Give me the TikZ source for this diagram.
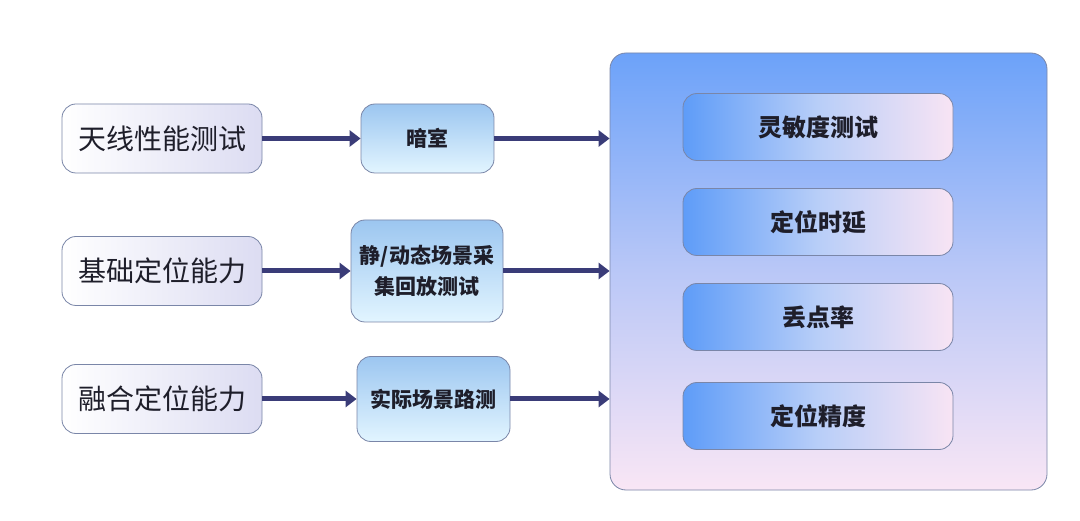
\documentclass[tikz,border=0pt]{standalone}
\usepackage{fontspec}
\newfontfamily\cjk{Noto Sans CJK SC}
\usetikzlibrary{arrows.meta,shadings}
\definecolor{edgec}{HTML}{7A86A8}
\definecolor{arrc}{HTML}{3A3C78}
\definecolor{txtc}{HTML}{1E1E2A}
\definecolor{lavl}{HTML}{DCDCF2}
\definecolor{midt}{HTML}{9CC6F0}
\definecolor{midb}{HTML}{E2F5FF}
\definecolor{inl}{HTML}{5E9CF8}
\definecolor{inm}{HTML}{B8CEF8}
\definecolor{inr}{HTML}{F8E4F4}
\definecolor{bigt}{HTML}{6CA2F9}
\definecolor{bigb}{HTML}{F9E6F5}
\tikzset{
  base/.style={draw=edgec, line width=0.8pt, rounded corners=14pt, text=txtc, align=center, inner sep=0pt},
  leftbox/.style={base, minimum width=200pt, minimum height=69pt,
    left color=white, right color=lavl, font=\cjk\fontsize{28}{32}\selectfont},
  midbox/.style={base, top color=midt, bottom color=midb, font=\cjk\bfseries\fontsize{21}{31}\selectfont},
  innerbox/.style={base, minimum width=270pt, minimum height=67pt, left color=inl, right color=inr, middle color=inm, font=\cjk\bfseries\fontsize{24}{28}\selectfont},
  flow/.style={arrc, line width=5pt, -{Triangle[length=11pt,width=16pt]}},
}
\begin{document}
\begin{tikzpicture}[x=1pt,y=-1pt]
\useasboundingbox[fill=white] (0,0) rectangle (1080,521);
% big container
\node[base, rounded corners=16pt, minimum width=437pt, minimum height=437pt, top color=bigt, bottom color=bigb, middle color=bigt!45!bigb] (big) at (828.5,271.5) {};
% left boxes
\node[leftbox] (l1) at (162,138.5) {天线性能测试};
\node[leftbox] (l2) at (162,271) {基础定位能力};
\node[leftbox] (l3) at (162,399) {融合定位能力};
% middle boxes
\node[midbox, minimum width=133pt, minimum height=69pt] (m1) at (427.5,138.5) {暗室};
\node[midbox, minimum width=152pt, minimum height=102pt] (m2) at (427,271) {静/动态场景采\\集回放测试};
\node[midbox, minimum width=153pt, minimum height=85pt] (m3) at (433.5,399) {实际场景路测};
% inner boxes
\node[innerbox] (r1) at (818,127) {灵敏度测试};
\node[innerbox] (r2) at (818,222) {定位时延};
\node[innerbox] (r3) at (818,317) {丢点率};
\node[innerbox] (r4) at (818,416) {定位精度};
% arrows
\draw[flow] (l1.east) -- (m1.west);
\draw[flow] (m1.east) -- (big.west |- m1.east);
\draw[flow] (l2.east) -- (m2.west);
\draw[flow] (m2.east) -- (big.west |- m2.east);
\draw[flow] (l3.east) -- (m3.west);
\draw[flow] (m3.east) -- (big.west |- m3.east);
\end{tikzpicture}
\end{document}
